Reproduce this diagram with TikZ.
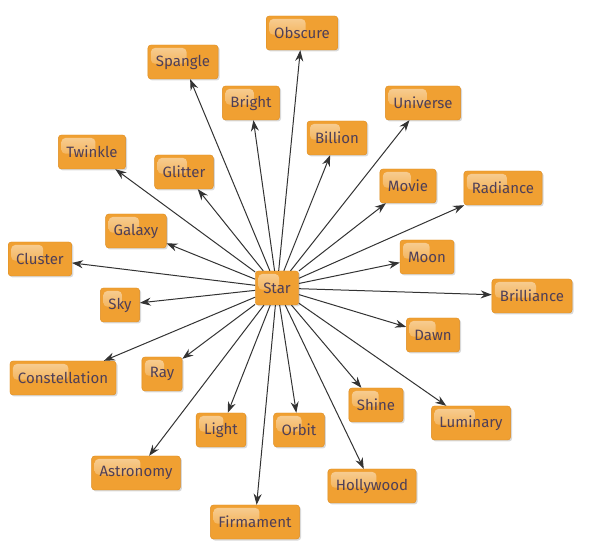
\documentclass[tikz,border=0pt]{standalone}
\usepackage{fontspec}
\setmainfont{Fira Sans}
\usetikzlibrary{arrows.meta,shadows,calc}
\definecolor{wordorange}{HTML}{F0A032}
\definecolor{wordedge}{HTML}{DC8A1E}
\definecolor{wordtext}{HTML}{4E3F58}
\tikzset{
    word/.style={draw=wordedge, fill=wordorange, rounded corners=3pt,
        text=wordtext, font=\fontsize{15}{17}\selectfont,
        minimum height=34pt, inner xsep=8pt,
        drop shadow={shadow xshift=1.5pt, shadow yshift=-1.5pt, opacity=0.3},
        path picture={\shade[top color=white!50!wordorange, bottom color=wordorange, rounded corners=4pt]
            ($(path picture bounding box.north west)+(3pt,-3pt)$) rectangle
            ($(path picture bounding box.north west)!0.55!(path picture bounding box.south east)$);}},
    link/.style={-{Stealth[length=11pt, width=8pt]}, draw=black!80, line width=1pt}
}
\begin{document}
    \begin{tikzpicture}[x=1pt, y=-1pt]
        \useasboundingbox (0,0) rectangle (590,556);
        \node [word] (star) at (277,288) {Star};
        \node [word] (obscure) at (302,33) {Obscure};
        \node [word] (spangle) at (183,62) {Spangle};
        \node [word] (bright) at (251,103) {Bright};
        \node [word] (twinkle) at (92,152) {Twinkle};
        \node [word] (glitter) at (184,172) {Glitter};
        \node [word] (galaxy) at (136,231) {Galaxy};
        \node [word] (cluster) at (40,259) {Cluster};
        \node [word] (sky) at (120,305) {Sky};
        \node [word] (constellation) at (63,378) {Constellation};
        \node [word] (ray) at (162,374) {Ray};
        \node [word] (light) at (221,430) {Light};
        \node [word] (orbit) at (299,430) {Orbit};
        \node [word] (astronomy) at (136,473) {Astronomy};
        \node [word] (firmament) at (255,522) {Firmament};
        \node [word] (universe) at (423,103) {Universe};
        \node [word] (billion) at (337,138) {Billion};
        \node [word] (movie) at (408,186) {Movie};
        \node [word] (radiance) at (503,188) {Radiance};
        \node [word] (moon) at (427,257) {Moon};
        \node [word] (brilliance) at (532,296) {Brilliance};
        \node [word] (dawn) at (433,335) {Dawn};
        \node [word] (shine) at (376,405) {Shine};
        \node [word] (luminary) at (471,423) {Luminary};
        \node [word] (hollywood) at (372,486) {Hollywood};
        \foreach \w in {obscure, spangle, bright, twinkle, glitter, galaxy,
            cluster, sky, constellation, ray, light, orbit, astronomy,
            firmament, universe, billion, movie, radiance, moon,
            brilliance, dawn, shine, luminary, hollywood}
            \draw [link] (star) -- (\w);
    \end{tikzpicture}
\end{document}
